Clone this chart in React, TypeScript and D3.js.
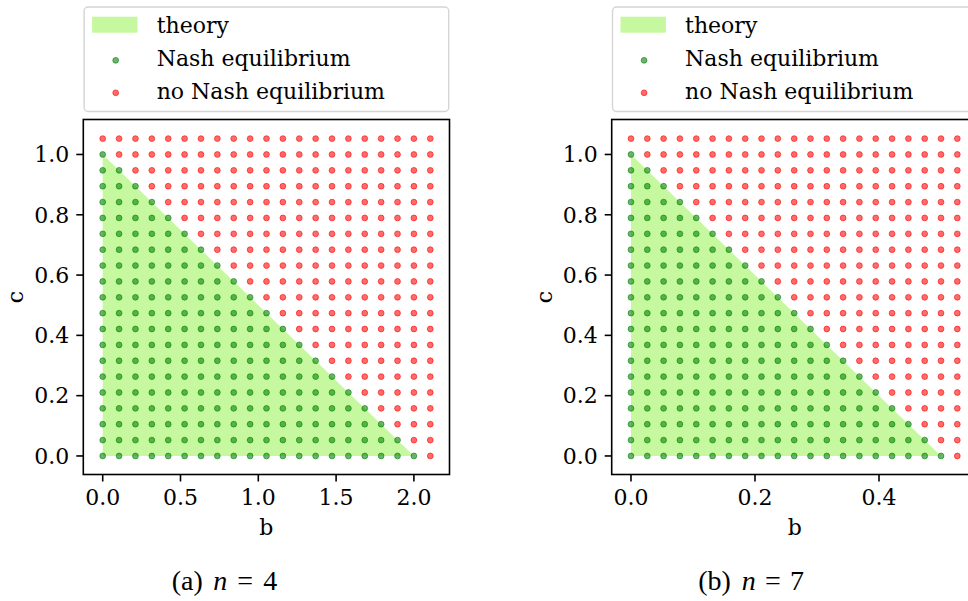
import React from "react";
import * as d3 from "d3";

// ---- data ----
const cValues = [0, 0.0526, 0.1053, 0.1579, 0.2105, 0.2632, 0.3158, 0.3684, 0.4211, 0.4737, 0.5263, 0.5789, 0.6316, 0.6842, 0.7368, 0.7895, 0.8421, 0.8947, 0.9474, 1.0, 1.0526];
const bValuesN4 = [0, 0.1053, 0.2105, 0.3158, 0.4211, 0.5263, 0.6316, 0.7368, 0.8421, 0.9474, 1.0526, 1.1579, 1.2632, 1.3684, 1.4737, 1.5789, 1.6842, 1.7895, 1.8947, 2.0, 2.1053];
const bValuesN7 = [0, 0.0263, 0.0526, 0.0789, 0.1053, 0.1316, 0.1579, 0.1842, 0.2105, 0.2368, 0.2632, 0.2895, 0.3158, 0.3421, 0.3684, 0.3947, 0.4211, 0.4474, 0.4737, 0.5, 0.5263];
// number of leading b-points (per c row, bottom to top) that have a Nash equilibrium
const nashCountN4 = [20, 19, 18, 17, 16, 15, 14, 13, 12, 11, 10, 9, 8, 7, 6, 5, 4, 3, 2, 1, 0];
const nashCountN7 = [20, 19, 18, 17, 16, 15, 14, 13, 12, 11, 10, 9, 8, 7, 6, 5, 4, 3, 2, 1, 0];
const theoryN4: [number, number][] = [[0, 0], [0, 1], [2, 0]];
const theoryN7: [number, number][] = [[0, 0], [0, 1], [0.5, 0]];
const xTicksN4 = [0, 0.5, 1.0, 1.5, 2.0];
const xTicksN7 = [0, 0.2, 0.4];
const yTicks = [0, 0.2, 0.4, 0.6, 0.8, 1.0];
const legendLabels = ["theory", "Nash equilibrium", "no Nash equilibrium"];

const FONT = "'DejaVu Serif', serif";
const FS = 22;
const FILL_GREEN = "#c6f99f";
const DOT_GREEN = "#008000";
const DOT_RED = "#ff0000";

type PanelProps = {
  left: number;
  right: number;
  xDomain: [number, number];
  bValues: number[];
  nashCount: number[];
  theory: [number, number][];
  xTicks: number[];
  captionParts: { text: string; x: number; italic?: boolean }[];
};

const TOP = 119.5;
const BOTTOM = 474.5;

function Dot({ cx, cy, color, r = 2.9 }: { cx: number; cy: number; color: string; r?: number }) {
  return (
    <circle cx={cx} cy={cy} r={r} fill={color} fillOpacity={0.58} stroke={color} strokeOpacity={0.58} strokeWidth={1} />
  );
}

function Panel({ left, right, xDomain, bValues, nashCount, theory, xTicks, captionParts }: PanelProps) {
  const x = d3.scaleLinear().domain(xDomain).range([left, right]);
  const y = d3.scaleLinear().domain([-0.0615, 1.116]).range([BOTTOM, TOP]);
  const line = d3
    .line<[number, number]>()
    .x((d) => x(d[0]))
    .y((d) => y(d[1]));
  const dots: { b: number; c: number; nash: boolean }[] = [];
  cValues.forEach((c, j) => {
    bValues.forEach((b, i) => {
      dots.push({ b, c, nash: i < nashCount[j] });
    });
  });
  const cx = (left + right) / 2;
  const cy = (TOP + BOTTOM) / 2;
  return (
    <g>
      {/* legend */}
      <g>
        <rect x={left + 0.8} y={7} width={right - left - 1.6} height={104.5} rx={4} fill="#ffffff" stroke="#d5d5d5" strokeWidth={1.4} />
        <rect x={left + 8.8} y={16.7} width={45.4} height={16} fill={FILL_GREEN} />
        <Dot cx={left + 32.4} cy={60.3} color={DOT_GREEN} />
        <Dot cx={left + 32.4} cy={92.8} color={DOT_RED} />
        {legendLabels.map((t, k) => (
          <text key={t} x={left + 73.4} y={33.3 + k * 33} fontFamily={FONT} fontSize={FS} fill="#000">
            {t}
          </text>
        ))}
      </g>
      {/* theory region */}
      <path d={line(theory)! + "Z"} fill={FILL_GREEN} stroke="none" />
      {/* points */}
      {dots.map((d, k) => (
        <Dot key={k} cx={x(d.b)} cy={y(d.c)} color={d.nash ? DOT_GREEN : DOT_RED} />
      ))}
      {/* frame */}
      <rect x={left} y={TOP} width={right - left} height={BOTTOM - TOP} fill="none" stroke="#000" strokeWidth={1.6} />
      {/* x ticks */}
      {xTicks.map((t) => (
        <g key={t}>
          <line x1={x(t)} x2={x(t)} y1={BOTTOM} y2={BOTTOM + 7} stroke="#000" strokeWidth={1.6} />
          <text x={x(t)} y={505} textAnchor="middle" fontFamily={FONT} fontSize={FS} fill="#000">
            {t.toFixed(1)}
          </text>
        </g>
      ))}
      {/* y ticks */}
      {yTicks.map((t) => (
        <g key={t}>
          <line x1={left - 7} x2={left} y1={y(t)} y2={y(t)} stroke="#000" strokeWidth={1.6} />
          <text x={left - 14} y={y(t) + 7.8} textAnchor="end" fontFamily={FONT} fontSize={FS} fill="#000">
            {t.toFixed(1)}
          </text>
        </g>
      ))}
      <text x={cx} y={535} textAnchor="middle" fontFamily={FONT} fontSize={FS} fill="#000">
        b
      </text>
      <text
        transform={`translate(${left - 60},${cy}) rotate(-90)`}
        textAnchor="middle"
        fontFamily={FONT}
        fontSize={FS}
        fill="#000"
      >
        c
      </text>
      {captionParts.map((p, k) => (
        <text
          key={k}
          x={p.x}
          y={590}
          fontFamily="'Liberation Serif', 'DejaVu Serif', serif"
          fontStyle={p.italic ? "italic" : "normal"}
          fontSize={28}
          fill="#000"
        >
          {p.text}
        </text>
      ))}
    </g>
  );
}

export default function App() {
  return (
    <div style={{ position: "absolute", left: 0, top: 0, width: 968, height: 601, background: "#fff" }}>
      <svg width={968} height={601} viewBox="0 0 968 601" style={{ display: "block" }}>
        <rect x={0} y={0} width={968} height={601} fill="#fff" />
        <Panel
          left={83.3}
          right={449.5}
          xDomain={[-0.1247, 2.2288]}
          bValues={bValuesN4}
          nashCount={nashCountN4}
          theory={theoryN4}
          xTicks={xTicksN4}
          captionParts={[
            { text: "(a)", x: 171.7 },
            { text: "n", x: 213.3, italic: true },
            { text: "=", x: 237.3 },
            { text: "4", x: 263.3 },
          ]}
        />
        <Panel
          left={611.7}
          right={977.9}
          xDomain={[-0.0311, 0.5595]}
          bValues={bValuesN7}
          nashCount={nashCountN7}
          theory={theoryN7}
          xTicks={xTicksN7}
          captionParts={[
            { text: "(b)", x: 698.3 },
            { text: "n", x: 741.7, italic: true },
            { text: "=", x: 765 },
            { text: "7", x: 790 },
          ]}
        />
      </svg>
    </div>
  );
}
